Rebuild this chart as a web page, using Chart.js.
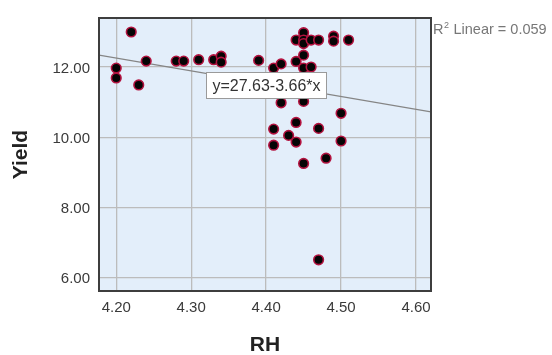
<!DOCTYPE html>
<html>
<head>
<meta charset="utf-8">
<script src="https://cdn.jsdelivr.net/npm/chart.js@4/dist/chart.umd.min.js"></script>
<style>
  html, body { margin: 0; padding: 0; background: #fff; }
  #wrap { width: 552px; height: 355px; }
</style>
</head>
<body>
<div id="wrap"><canvas id="scatterChart" width="552" height="355"></canvas></div>
<script>
// valores (RH x Yield)
const rh = [4.20, 4.20, 4.22, 4.23, 4.24, 4.28, 4.29, 4.31, 4.33, 4.34, 4.34, 4.39,
  4.41, 4.41, 4.41, 4.42, 4.42, 4.43, 4.44, 4.44, 4.44, 4.44,
  4.45, 4.45, 4.45, 4.45, 4.45, 4.45, 4.45, 4.46, 4.46, 4.47, 4.47, 4.47, 4.48,
  4.49, 4.49, 4.50, 4.50, 4.51];
const yieldVals = [11.97, 11.69, 13.00, 11.49, 12.17, 12.17, 12.17, 12.21, 12.21, 12.31, 12.14, 12.19,
  11.97, 10.23, 9.77, 12.09, 10.98, 10.05, 12.77, 12.16, 10.42, 9.86,
  12.98, 12.77, 12.67, 12.34, 11.97, 11.02, 9.25, 12.77, 12.00, 12.77, 10.25, 6.50, 9.40,
  12.88, 12.74, 10.68, 9.89, 12.77];

const xTicks = [4.20, 4.30, 4.40, 4.50, 4.60];
const yTicks = [6, 8, 10, 12];
const xRange = [4.177, 4.62];
const yRange = [5.61, 13.40];

// reta de regressao: y = 27.63 - 3.66*x
const intercept = 27.63;
const slope = -3.66;
const equationText = "y=27.63-3.66*x";
const r2Value = "0.059";

const FONT = "'Liberation Sans', Arial, sans-serif";

const pontos = rh.map((x, i) => ({ x: x, y: yieldVals[i] }));
const reta = xRange.map((x) => ({ x: x, y: intercept + slope * x }));

// fundo azul da area do grafico + moldura
const plotFrame = {
  id: "plotFrame",
  beforeDraw(chart) {
    const { ctx, chartArea: a } = chart;
    ctx.save();
    ctx.fillStyle = "#e3eefa";
    ctx.fillRect(a.left, a.top, a.right - a.left, a.bottom - a.top);
    ctx.restore();
  },
  afterDraw(chart) {
    const { ctx, chartArea: a } = chart;
    ctx.save();
    ctx.strokeStyle = "#3e3e3e";
    ctx.lineWidth = 2;
    ctx.strokeRect(a.left, a.top, a.right - a.left, a.bottom - a.top);
    ctx.restore();
  },
};

// caixa com a equacao e o texto do R2
const fitLabels = {
  id: "fitLabels",
  afterDatasetsDraw(chart) {
    const { ctx, chartArea: a } = chart;
    ctx.save();
    const bx = a.left + 107, by = a.top + 54, bw = 121, bh = 27;
    ctx.fillStyle = "#fff";
    ctx.fillRect(bx, by, bw, bh);
    ctx.strokeStyle = "#9a9a9a";
    ctx.lineWidth = 1;
    ctx.strokeRect(bx + 0.5, by + 0.5, bw - 1, bh - 1);
    ctx.fillStyle = "#333";
    ctx.font = "16px " + FONT;
    ctx.textAlign = "center";
    ctx.textBaseline = "middle";
    ctx.fillText(equationText, bx + bw / 2, by + bh / 2 + 1);

    // R2 Linear fora da area, canto superior direito
    ctx.fillStyle = "#777";
    ctx.textAlign = "left";
    ctx.textBaseline = "alphabetic";
    let x = a.right + 2;
    const base = a.top + 16;
    ctx.font = "14.5px " + FONT;
    ctx.fillText("R", x, base);
    x += ctx.measureText("R").width;
    ctx.font = "9px " + FONT;
    ctx.fillText("2", x + 0.5, base - 6);
    x += ctx.measureText("2").width + 1;
    ctx.font = "14.5px " + FONT;
    ctx.fillText(" Linear = " + r2Value, x, base);
    ctx.restore();
  },
};

new Chart(document.getElementById("scatterChart"), {
  type: "scatter",
  data: {
    datasets: [
      {
        label: "Yield",
        data: pontos,
        order: 0,
        pointRadius: 4.8,
        pointBackgroundColor: "#050505",
        pointBorderColor: "#b3123f",
        pointBorderWidth: 1.6,
      },
      {
        type: "line",
        label: "Linear",
        data: reta,
        order: 1,
        borderColor: "#858585",
        borderWidth: 1.3,
        pointRadius: 0,
        fill: false,
      },
    ],
  },
  options: {
    responsive: false,
    animation: false,
    layout: { padding: { left: 0, top: 9, right: 121, bottom: 0 } },
    plugins: {
      legend: { display: false },
      tooltip: { enabled: false },
    },
    scales: {
      x: {
        type: "linear",
        min: xRange[0],
        max: xRange[1],
        afterBuildTicks: (s) => { s.ticks = xTicks.map((v) => ({ value: v })); },
        afterFit: (s) => { s.height = 64; },
        grid: { color: "#bcbcbc", lineWidth: 1.3, drawTicks: false },
        border: { display: false },
        ticks: {
          padding: 8,
          color: "#3a3a3a",
          font: { family: FONT, size: 15 },
          callback: (v) => Number(v).toFixed(2),
        },
        title: {
          display: true,
          text: "RH",
          color: "#222",
          font: { family: FONT, size: 21, weight: "bold", lineHeight: 1 },
          padding: { top: 0, bottom: -1 },
        },
      },
      y: {
        type: "linear",
        min: yRange[0],
        max: yRange[1],
        afterBuildTicks: (s) => { s.ticks = yTicks.map((v) => ({ value: v })); },
        afterFit: (s) => { s.width = 99; },
        grid: { color: "#bcbcbc", lineWidth: 1.3, drawTicks: false },
        border: { display: false },
        ticks: {
          padding: 9,
          labelOffset: 2,
          color: "#3a3a3a",
          font: { family: FONT, size: 15 },
          callback: (v) => Number(v).toFixed(2),
        },
        title: {
          display: true,
          text: "Yield",
          color: "#222",
          font: { family: FONT, size: 21, weight: "bold", lineHeight: 1 },
          padding: { top: 11, bottom: 0 },
        },
      },
    },
  },
  plugins: [plotFrame, fitLabels],
});
</script>
</body>
</html>
